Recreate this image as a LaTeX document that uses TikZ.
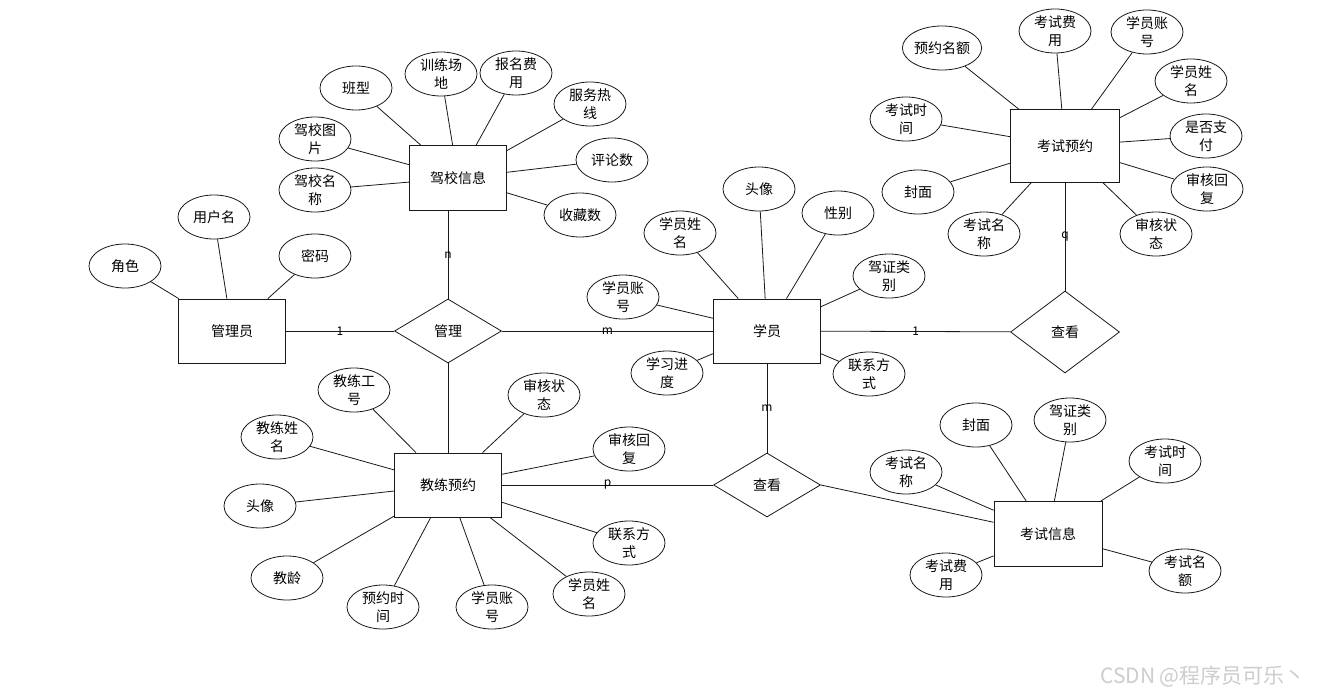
\documentclass[tikz,border=0pt]{standalone}
\usepackage{fontspec}
\usepackage{tikz}
\usetikzlibrary{positioning, shapes.geometric}
\newfontfamily\cjk{Noto Sans CJK SC}
\definecolor{inkdark}{RGB}{25,25,25}
\definecolor{markgray}{RGB}{205,205,205}
\tikzset{
  entity/.style={
    draw=inkdark, line width=0.8pt, fill=white,
    minimum width=107pt, minimum height=64pt, inner sep=2pt
  },
  relation/.style={
    draw=inkdark, diamond, line width=0.8pt, fill=white,
    minimum width=107pt, minimum height=64pt, inner sep=0pt
  },
  attr/.style={
    draw=inkdark, ellipse, line width=0.8pt, fill=white,
    minimum width=72pt, minimum height=44pt, inner sep=0pt,
    align=center, font=\cjk\fontsize{14}{18}\selectfont
  },
  link/.style={draw=inkdark, line width=0.8pt},
  card/.style={font=\cjk\fontsize{12}{14}\selectfont, inner sep=0pt}
}

\begin{document}
\begin{tikzpicture}[x=1pt, y=-1pt, font=\cjk\fontsize{14}{18}\selectfont]
  \path[fill=white, use as bounding box] (0,0) rectangle (1343,698);

  \node[entity] (gly) at (232,331) {管理员};
  \node[entity, minimum width=97pt, minimum height=65pt] (jx) at (458,178) {驾校信息};
  \node[entity] (xy) at (767,331) {学员};
  \node[entity, minimum width=109pt, minimum height=73pt] (ksyy) at (1065,146) {考试预约};
  \node[entity] (jlyy) at (448,485) {教练预约};
  \node[entity, minimum width=108pt, minimum height=65pt] (ksxx) at (1048,534) {考试信息};

  \node[relation] (gl) at (448,331) {管理};
  \node[relation, minimum width=109pt, minimum height=82pt] (ck1) at (1065,332) {查看};
  \node[relation] (ck2) at (767,485) {查看};

  \draw[link] (gly) -- node[card]{1} (gl);
  \draw[link] (gl) -- node[card]{m} (xy);
  \draw[link] (jx.south -| gl.north) -- node[card]{n} (gl.north);
  \draw[link] (gl) -- (jlyy);
  \draw[link] (xy) -- node[card]{1} (ck1);
  \draw[link] (ck1) -- node[card]{q} (ksyy);
  \draw[link] (xy) -- node[card]{m} (ck2);
  \draw[link] (jlyy) -- node[card]{p} (ck2);
  \draw[link] (ck2.east) -- (ksxx);

  \node[attr] (a1) at (125,266) {角色};
  \node[attr] (a2) at (214,217) {用户名};
  \node[attr] (a3) at (315,256) {密码};
  \draw[link] (gly) -- (a1);
  \draw[link] (gly) -- (a2);
  \draw[link] (gly) -- (a3);

  \node[attr] (s1) at (356,88) {班型};
  \node[attr] (s2) at (441,74) {训练场\\地};
  \node[attr] (s3) at (516,73) {报名费\\用};
  \node[attr] (s4) at (590,104) {服务热\\线};
  \node[attr] (s5) at (612,160) {评论数};
  \node[attr] (s6) at (580,215) {收藏数};
  \node[attr] (s7) at (315,190) {驾校名\\称};
  \node[attr] (s8) at (315,139) {驾校图\\片};
  \draw[link] (jx) -- (s1);
  \draw[link] (jx) -- (s2);
  \draw[link] (jx) -- (s3);
  \draw[link] (jx) -- (s4);
  \draw[link] (jx) -- (s5);
  \draw[link] (jx) -- (s6);
  \draw[link] (jx) -- (s7);
  \draw[link] (jx) -- (s8);

  \node[attr] (x1) at (759,189) {头像};
  \node[attr] (x2) at (838,213) {性别};
  \node[attr] (x3) at (680,233) {学员姓\\名};
  \node[attr] (x4) at (889,276) {驾证类\\别};
  \node[attr] (x5) at (623,297) {学员账\\号};
  \node[attr] (x6) at (667,373) {学习进\\度};
  \node[attr] (x7) at (869,374) {联系方\\式};
  \draw[link] (xy) -- (x1);
  \draw[link] (xy) -- (x2);
  \draw[link] (xy) -- (x3);
  \draw[link] (xy) -- (x4);
  \draw[link] (xy) -- (x5);
  \draw[link] (xy) -- (x6);
  \draw[link] (xy) -- (x7);

  \node[attr] (k1) at (942,48) {预约名额};
  \node[attr] (k2) at (1055,31) {考试费\\用};
  \node[attr] (k3) at (1147,32) {学员账\\号};
  \node[attr] (k4) at (1191,81) {学员姓\\名};
  \node[attr] (k5) at (1206,136) {是否支\\付};
  \node[attr] (k6) at (1207,189) {审核回\\复};
  \node[attr] (k7) at (1156,234) {审核状\\态};
  \node[attr] (k8) at (984,234) {考试名\\称};
  \node[attr] (k9) at (918,192) {封面};
  \node[attr] (k10) at (906,119) {考试时\\间};
  \draw[link] (ksyy) -- (k1);
  \draw[link] (ksyy) -- (k2);
  \draw[link] (ksyy) -- (k3);
  \draw[link] (ksyy) -- (k4);
  \draw[link] (ksyy) -- (k5);
  \draw[link] (ksyy) -- (k6);
  \draw[link] (ksyy) -- (k7);
  \draw[link] (ksyy) -- (k8);
  \draw[link] (ksyy) -- (k9);
  \draw[link] (ksyy) -- (k10);

  \node[attr] (j1) at (354,390) {教练工\\号};
  \node[attr] (j2) at (544,395) {审核状\\态};
  \node[attr] (j3) at (277,437) {教练姓\\名};
  \node[attr] (j4) at (629,449) {审核回\\复};
  \node[attr] (j5) at (260,506) {头像};
  \node[attr] (j6) at (629,543) {联系方\\式};
  \node[attr] (j7) at (287,578) {教龄};
  \node[attr] (j8) at (383,607) {预约时\\间};
  \node[attr] (j9) at (492,607) {学员账\\号};
  \node[attr] (j10) at (589,594) {学员姓\\名};
  \draw[link] (jlyy) -- (j1);
  \draw[link] (jlyy) -- (j2);
  \draw[link] (jlyy) -- (j3);
  \draw[link] (jlyy) -- (j4);
  \draw[link] (jlyy) -- (j5);
  \draw[link] (jlyy) -- (j6);
  \draw[link] (jlyy) -- (j7);
  \draw[link] (jlyy) -- (j8);
  \draw[link] (jlyy) -- (j9);
  \draw[link] (jlyy) -- (j10);

  \node[attr] (e1) at (976,425) {封面};
  \node[attr] (e2) at (1070,420) {驾证类\\别};
  \node[attr] (e3) at (906,472) {考试名\\称};
  \node[attr] (e4) at (1165,461) {考试时\\间};
  \node[attr] (e5) at (946,575) {考试费\\用};
  \node[attr] (e6) at (1185,571) {考试名\\额};
  \draw[link] (ksxx) -- (e1);
  \draw[link] (ksxx) -- (e2);
  \draw[link] (ksxx) -- (e3);
  \draw[link] (ksxx) -- (e4);
  \draw[link] (ksxx) -- (e5);
  \draw[link] (ksxx) -- (e6);

  \node[text=markgray, font=\cjk\fontsize{21}{24}\selectfont] (wm) at (1203,676) {CSDN @程序员可乐丶};
\end{tikzpicture}
\end{document}
